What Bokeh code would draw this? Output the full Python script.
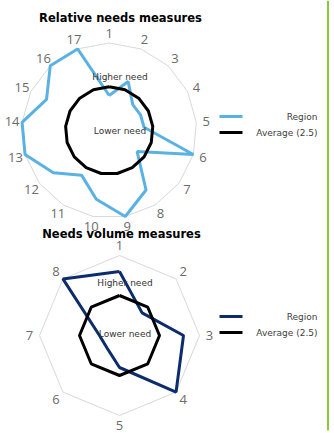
import numpy as np
from bokeh.plotting import figure
from bokeh.models import Range1d
from bokeh.embed import file_html
from bokeh.resources import INLINE
from bokeh.core.properties import value

# ---- data ----
rel_title = "Relative needs measures"
rel_axes = [str(i) for i in range(1, 18)]
rel_region = [2, 3, 2, 2, 2, 5, 2, 4, 5, 4, 3, 4, 5, 5, 4, 5, 5]

vol_title = "Needs volume measures"
vol_axes = [str(i) for i in range(1, 9)]
vol_region = [4, 2, 4, 5, 2, 1.1, 1.25, 5]

average = 2.5
scale_max = 5
legend_labels = ["Region", "Average (2.5)"]
annotations = ["Higher need", "Lower need"]

# ---- figure (data units = page pixels) ----
W, H = 334, 433
p = figure(width=W, height=H, x_range=Range1d(0, W), y_range=Range1d(H, 0),
           output_backend="svg", toolbar_location=None, min_border=0,
           x_axis_location=None, y_axis_location=None)
p.grid.visible = False
p.outline_line_color = None
p.background_fill_color = "white"

GRID = "#d9d9d9"
LABEL = "#6b6b6b"
BLACK = "#000000"


def polar(cx, cy, R, vals):
    n = len(vals)
    a = np.arange(n) * 2 * np.pi / n
    r = np.asarray(vals, dtype=float) / scale_max * R
    x = cx + r * np.sin(a)
    y = cy - r * np.cos(a)
    return list(x) + [x[0]], list(y) + [y[0]]


def radar(cx, cy, R, axes, region, color, title, title_x, title_y, annot_x, annot_y,
          leg_y, label_gap):
    n = len(axes)
    gx, gy = polar(cx, cy, R, [scale_max] * n)
    p.line(gx, gy, line_color=GRID, line_width=1)
    rx, ry = polar(cx, cy, R, region)
    p.line(rx, ry, line_color=color, line_width=3)
    ax, ay = polar(cx, cy, R, [average] * n)
    p.line(ax, ay, line_color=BLACK, line_width=3)
    lx, ly = polar(cx, cy, R, [scale_max * (R + label_gap) / R] * n)
    p.text(lx[:-1], ly[:-1], text=axes, text_font=value("Open Sans"),
           text_font_size=value("13px"), text_color=LABEL,
           text_align="center", text_baseline="middle")
    p.text([annot_x, annot_x], annot_y, text=annotations, text_font=value("DejaVu Sans"),
           text_font_size=value("9px"), text_color="#333333",
           text_align="center", text_baseline="middle")
    p.text([title_x], [title_y], text=[title], text_font=value("DejaVu Sans"),
           text_font_size=value("11.5px"), text_font_style="bold", text_color=BLACK,
           text_align="center", text_baseline="middle")
    # legend
    p.segment([219, 219], leg_y, [242, 242], leg_y, line_color=[color, BLACK], line_width=3)
    p.text([317, 317], leg_y, text=legend_labels, text_font=value("DejaVu Sans"),
           text_font_size=value("9px"), text_color="#404040",
           text_align="right", text_baseline="middle")


radar(108.7, 130, 87.5, rel_axes, rel_region, "#5ab2e3", rel_title, 120, 17,
      119.5, [76, 130], [116, 132], 10)
radar(119, 335, 80, vol_axes, vol_region, "#0c2c6c", vol_title, 121, 233,
      124.5, [282, 333], [316, 332], 10)

# green side rule
p.segment([327.5], [0], [327.5], [430], line_color="#8cc63f", line_width=2)

open("out.html", "w").write(file_html(p, INLINE))
